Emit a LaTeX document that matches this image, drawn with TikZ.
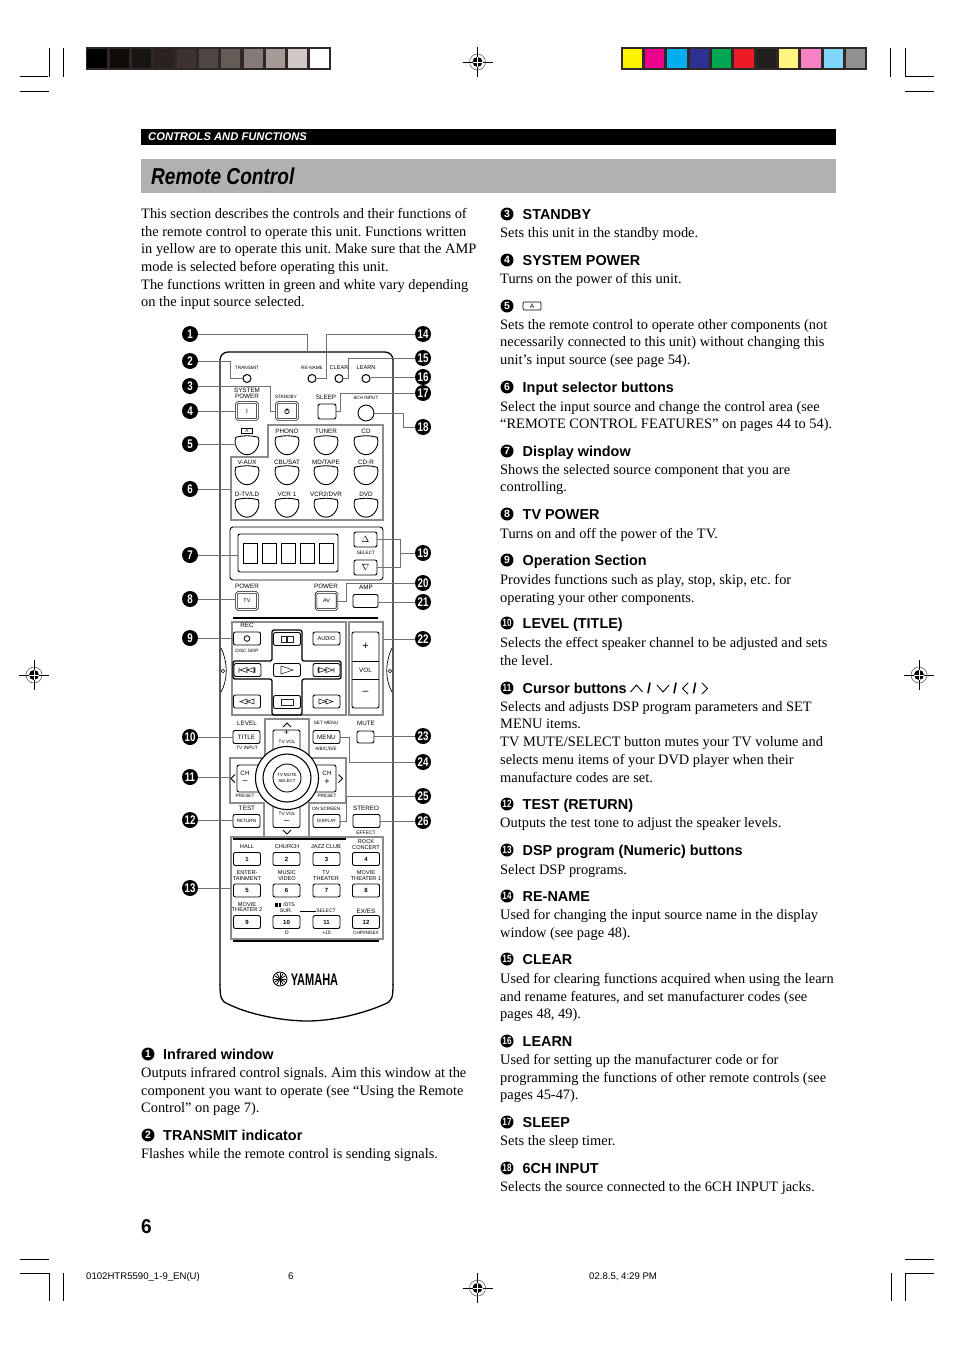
\documentclass[tikz,border=0pt]{standalone}
\usepackage{fontspec}
\setmainfont{Liberation Serif}
\setsansfont{Liberation Sans}
\frenchspacing
\definecolor{leadgray}{HTML}{707070}
\definecolor{groupgray}{HTML}{8C8C8C}
\definecolor{framegray}{HTML}{2F2826}
\definecolor{titlegray}{HTML}{B1B1B1}
\newcommand{\tightnum}[1]{\scalebox{0.78}[1]{#1}}
\tikzset{
  bodytxt/.style={anchor=north west, inner sep=0pt, align=left, font=\fontsize{14.4}{17.7}\selectfont},
  headtxt/.style={anchor=west, inner sep=0pt, text height=11pt, text depth=1pt, font=\sffamily\bfseries\fontsize{14.4}{16}\selectfont},
  numdot/.style={circle, fill=black, text=white, inner sep=0pt, minimum size=13pt, font=\sffamily\bfseries\fontsize{10.5}{11}\selectfont},
  callout/.style={circle, fill=black, text=white, inner sep=0pt, minimum size=16pt, font=\sffamily\bfseries\fontsize{12.5}{13}\selectfont},
  lead/.style={draw=leadgray, line width=1pt},
  groupbox/.style={draw=groupgray, line width=1.2pt, inner sep=0pt},
  btnline/.style={draw=black, line width=0.9pt},
  rbtn/.style={draw=black, line width=0.9pt, rounded corners=2pt, fill=white, inner sep=0pt, minimum width=27pt, minimum height=13pt, font=\sffamily\fontsize{6.3}{7}\selectfont},
  dblbtn/.style={draw=black, line width=0.7pt, double=white, double distance=1pt, rounded corners=1.5pt, inner sep=0pt, minimum width=21pt, minimum height=17pt, font=\sffamily\fontsize{6.3}{7}\selectfont},
  rlabel/.style={inner sep=0pt, font=\sffamily\fontsize{6.3}{7}\selectfont},
  rsmall/.style={inner sep=0pt, font=\sffamily\fontsize{5.6}{6}\selectfont},
  rtiny/.style={inner sep=0pt, font=\sffamily\fontsize{4.7}{5.4}\selectfont, align=center},
  rsign/.style={inner sep=0pt, font=\sffamily\fontsize{9}{10}\selectfont},
  ledbtn/.style={circle, draw=black, line width=1pt, inner sep=0pt, minimum size=8pt},
  inputbtn/.style={inner sep=0pt, minimum width=22pt, minimum height=17pt},
  icon/.style={draw=black!85, line width=0.6pt},
  rulebar/.style={draw=black, line width=1.6pt},
  crop/.style={draw=black, line width=0.6pt}
}
\begin{document}
\begin{tikzpicture}[x=1pt,y=-1pt]
    \useasboundingbox (0,0) rectangle (954,1351);

    % Crop marks
    \draw[crop] (20,76.7) -- (48,76.7) (49.3,48) -- (49.3,76.7) (63,48) -- (63,76.7) (20,91.3) -- (49,91.3);
    \draw[crop] (905.3,48) -- (905.3,76.7) -- (934,76.7) (890.7,48) -- (890.7,76.7) (905,91.3) -- (934,91.3);
    \draw[crop] (20,1259) -- (49,1259) (20,1273) -- (49,1273) -- (49,1301) (63,1273) -- (63,1301);
    \draw[crop] (905,1259) -- (934,1259) (934,1273) -- (905,1273) -- (905,1301) (891,1273) -- (891,1301);

    % Registration marks
    \foreach \rx/\ry in {477.5/62, 34/675, 919/675, 477.5/1288} {
        \draw[black, line width=0.5pt] (\rx-15,\ry) -- (\rx+15,\ry) (\rx,\ry-15) -- (\rx,\ry+15);
        \draw[black!70, line width=0.5pt] (\rx,\ry) circle (8);
        \fill[black] (\rx,\ry) circle (5);
        \draw[white, line width=0.8pt] (\rx-5,\ry) -- (\rx+5,\ry) (\rx,\ry-5) -- (\rx,\ry+5);
    }

    % Colour bars
    \fill[framegray] (86,47) rectangle (331,70);
    \foreach \xa/\xb/\cc in {87.3/107.3/000000, 110/129/0E0B09, 132/151/181412, 154/173/29221F, 176.7/196/3D3230, 199/218/514744, 221/240/655B57, 243.7/262.7/857A76, 266/285/A59A96, 288/307/D0C8C6, 310/329.3/FFFFFF} {
        \definecolor{cellcol}{HTML}{\cc}
        \fill[cellcol] (\xa,48.7) rectangle (\xb,68);
    }
    \fill[framegray] (621,47) rectangle (867,70);
    \foreach \xa/\xb/\cc in {623/642/FFF200, 645/664/EC008C, 667/687/00AEEF, 690/709/2E3192, 712/731/00A651, 734/754/ED1C24, 757/776/231F20, 779/798/FFF57F, 801/821/F682C4, 824/843/80D7FA, 846/865/918F8F} {
        \definecolor{cellcol}{HTML}{\cc}
        \fill[cellcol] (\xa,48.7) rectangle (\xb,68);
    }

    % Page header
    \fill[black] (141,129) rectangle (836,145);
    \node[anchor=west, inner sep=0pt, text=white, font=\sffamily\bfseries\itshape\fontsize{11.2}{12}\selectfont] (sectionTitle) at (148,137) {CONTROLS AND FUNCTIONS};
    \fill[titlegray] (141,159) rectangle (836,193);
    \node[anchor=west, inner sep=0pt, font=\sffamily\bfseries\itshape\fontsize{23}{24}\selectfont] (pageTitle) at (151,176.5) {\scalebox{0.83}[1]{Remote Control}};

    % Left column
    \node[bodytxt] (intro) at (141,208) {This section describes the controls and their functions of\\the remote control to operate this unit. Functions written\\in yellow are to operate this unit. Make sure that the AMP\\mode is selected before operating this unit.\\The functions written in green and white vary depending\\on the input source selected.};
    \node[numdot] (n1) at (148,1054) {1};
    \node[headtxt] (h1) at (163,1054) {Infrared window};
    \node[bodytxt] (b1) at (141,1067) {Outputs infrared control signals. Aim this window at the\\component you want to operate (see “Using the Remote\\Control” on page 7).};
    \node[numdot] (n2) at (148,1135) {2};
    \node[headtxt] (h2) at (163,1135) {TRANSMIT indicator};
    \node[bodytxt] (b2) at (141,1148) {Flashes while the remote control is sending signals.};

    % Right column
    \node[numdot] (n3) at (507,214) {3};
    \node[headtxt] (h3) at (522.5,214) {STANDBY};
    \node[bodytxt] (b3) at (500,227) {Sets this unit in the standby mode.};
    \node[numdot] (n4) at (507,260) {4};
    \node[headtxt] (h4) at (522.5,260) {SYSTEM POWER};
    \node[bodytxt] (b4) at (500,273) {Turns on the power of this unit.};
    \node[numdot] (n5) at (507,306) {5};
    \node[draw=black, line width=0.7pt, rounded corners=1pt, inner sep=0pt, minimum width=18pt, minimum height=8pt, font=\sffamily\fontsize{6.5}{7}\selectfont] (h5) at (532,306) {A};
    \node[bodytxt] (b5) at (500,319) {Sets the remote control to operate other components (not\\necessarily connected to this unit) without changing this\\unit’s input source (see page 54).};
    \node[numdot] (n6) at (507,387) {6};
    \node[headtxt] (h6) at (522.5,387) {Input selector buttons};
    \node[bodytxt] (b6) at (500,401) {Select the input source and change the control area (see\\“REMOTE CONTROL FEATURES” on pages 44 to 54).};
    \node[numdot] (n7) at (507,451) {7};
    \node[headtxt] (h7) at (522.5,451) {Display window};
    \node[bodytxt] (b7) at (500,464) {Shows the selected source component that you are\\controlling.};
    \node[numdot] (n8) at (507,514) {8};
    \node[headtxt] (h8) at (522.5,514) {TV POWER};
    \node[bodytxt] (b8) at (500,528) {Turns on and off the power of the TV.};
    \node[numdot] (n9) at (507,560) {9};
    \node[headtxt] (h9) at (522.5,560) {Operation Section};
    \node[bodytxt] (b9) at (500,574) {Provides functions such as play, stop, skip, etc. for\\operating your other components.};
    \node[numdot] (n10) at (507,623) {\tightnum{10}};
    \node[headtxt] (h10) at (522.5,623) {LEVEL (TITLE)};
    \node[bodytxt] (b10) at (500,637) {Selects the effect speaker channel to be adjusted and sets\\the level.};
    \node[numdot] (n11) at (507,688) {\tightnum{11}};
    \node[headtxt] (h11) at (522.5,688) {Cursor buttons};
    \node[headtxt] (h11a) at (647,688) {/};
    \node[headtxt] (h11b) at (673,688) {/};
    \node[headtxt] (h11c) at (692.5,688) {/};
    \draw[black, line width=0.9pt] (630.5,692) -- (636.5,685) -- (642.5,692) (657,685) -- (663,692) -- (669,685) (688,683) -- (682.5,688.5) -- (688,694) (702,683) -- (707.5,688.5) -- (702,694);
    \node[bodytxt] (b11) at (500,701) {Selects and adjusts DSP program parameters and SET\\MENU items.\\TV MUTE/SELECT button mutes your TV volume and\\selects menu items of your DVD player when their\\manufacture codes are set.};
    \node[numdot] (n12) at (507,804) {\tightnum{12}};
    \node[headtxt] (h12) at (522.5,804) {TEST (RETURN)};
    \node[bodytxt] (b12) at (500,817) {Outputs the test tone to adjust the speaker levels.};
    \node[numdot] (n13) at (507,850) {\tightnum{13}};
    \node[headtxt] (h13) at (522.5,850) {DSP program (Numeric) buttons};
    \node[bodytxt] (b13) at (500,864) {Select DSP programs.};
    \node[numdot] (n14) at (507,896) {\tightnum{14}};
    \node[headtxt] (h14) at (522.5,896) {RE-NAME};
    \node[bodytxt] (b14) at (500,909) {Used for changing the input source name in the display\\window (see page 48).};
    \node[numdot] (n15) at (507,959) {\tightnum{15}};
    \node[headtxt] (h15) at (522.5,959) {CLEAR};
    \node[bodytxt] (b15) at (500,973) {Used for clearing functions acquired when using the learn\\and rename features, and set manufacturer codes (see\\pages 48, 49).};
    \node[numdot] (n16) at (507,1041) {\tightnum{16}};
    \node[headtxt] (h16) at (522.5,1041) {LEARN};
    \node[bodytxt] (b16) at (500,1054) {Used for setting up the manufacturer code or for\\programming the functions of other remote controls (see\\pages 45-47).};
    \node[numdot] (n17) at (507,1122) {\tightnum{17}};
    \node[headtxt] (h17) at (522.5,1122) {SLEEP};
    \node[bodytxt] (b17) at (500,1135) {Sets the sleep timer.};
    \node[numdot] (n18) at (507,1168) {\tightnum{18}};
    \node[headtxt] (h18) at (522.5,1168) {6CH INPUT};
    \node[bodytxt] (b18) at (500,1181) {Selects the source connected to the 6CH INPUT jacks.};

    % Footer
    \node[anchor=west, inner sep=0pt, font=\sffamily\bfseries\fontsize{20}{22}\selectfont] (pageNum) at (141,1226.5) {\scalebox{0.95}[1]{6}};
    \node[anchor=west, inner sep=0pt, font=\sffamily\fontsize{9.6}{10}\selectfont] (footFile) at (86,1276.5) {0102HTR5590\_1-9\_EN(U)};
    \node[anchor=west, inner sep=0pt, font=\sffamily\fontsize{9.6}{10}\selectfont] (footPage) at (288,1276.5) {6};
    \node[anchor=west, inner sep=0pt, font=\sffamily\fontsize{9.6}{10}\selectfont] (footDate) at (589,1276.5) {02.8.5, 4:29 PM};

    % Remote body
    \draw[black, line width=1.3pt, rounded corners=8pt] (220,985) -- (220,352) -- (393,352) -- (393,985);
    \draw[black, line width=1.3pt] (393,984) .. controls (393,998) and (392,1001) .. (385,1004) .. controls (360,1015) and (330,1021) .. (307,1021) .. controls (284,1021) and (250,1015) .. (228,1004) .. controls (221,1001) and (220,998) .. (220,984);
    \draw[black, line width=0.7pt] (221,648) .. controls (228,662) and (228,680) .. (221,692);
    \draw[black, line width=0.7pt] (392,648) .. controls (385,662) and (385,680) .. (392,692);
    \draw[black, line width=0.6pt] (223,671) circle (1.8) (390,671) circle (1.8);
    \coordinate (topEdge) at (307,352);

    % Top row
    \foreach \nm/\px in {ledTransmit/247, ledRename/312, ledClear/339, ledLearn/366} {
        \node[ledbtn] (\nm) at (\px,378.5) {};
    }
    \node[rtiny] (labTransmit) at (247,368) {TRANSMIT};
    \node[rtiny] (labRename) at (312,368) {RE-NAME};
    \node[rsmall] (labClear) at (339,368) {CLEAR};
    \node[rsmall] (labLearn) at (366,368) {LEARN};
    \node[rlabel] (labSystem) at (247,390.5) {SYSTEM};
    \node[rlabel] (labPower) at (247,396.5) {POWER};
    \node[rtiny] (labStandby) at (286,397) {STANDBY};
    \node[rlabel] (labSleep) at (326,397) {SLEEP};
    \node[rtiny] (labSixCh) at (366,398) {6CH INPUT};
    \node[dblbtn] (sysPower) at (247,411) {I};
    \node[dblbtn] (standby) at (287,411) {};
    \draw[black, line width=0.7pt] (287,411.5) circle (2.2) (287,408) -- (287,411);
    \node[rbtn, minimum width=18pt, minimum height=15pt] (sleepBtn) at (327,411.5) {};
    \node[circle, draw=black, line width=0.9pt, inner sep=0pt, minimum size=16pt] (sixCh) at (366,413) {};

    % Input selector buttons
    \node[draw=black, line width=0.6pt, inner sep=0pt, minimum width=11pt, minimum height=5pt, font=\sffamily\fontsize{4.6}{5}\selectfont] (labA) at (247,431) {A};
    \draw[groupgray, line width=1.2pt] (231,457) -- (268,457) -- (268,425) -- (383,425) -- (383,520) -- (231,520) -- cycle;
    \coordinate (inputEdge) at (231,489);
    \foreach \px/\py [count=\k] in {247/446, 287/446, 326/446, 366/446, 247/476, 287/476, 326/476, 366/476, 247/508.5, 287/508.5, 326/508.5, 366/508.5} {
        \node[inputbtn] (in\k) at (\px,\py) {};
        \draw[btnline] (in\k.north west) to[bend left=14] (in\k.north east) to[out=-70,in=0] (in\k.south) to[out=180,in=-110] (in\k.north west);
    }
    \foreach \px/\py/\txt [count=\k] in {287/431/PHONO, 326/431/TUNER, 366/431/CD, 247/462/V-AUX, 287/462/{CBL/SAT}, 326/462/{MD/TAPE}, 366/462/CD-R, 247/494/D-TV{/}LD, 287/494/VCR 1, 326/494/{VCR2/DVR}, 366/494/DVD} {
        \node[rlabel] (inLab\k) at (\px,\py) {\txt};
    }

    % Display panel
    \node[draw=black, line width=0.9pt, rounded corners=3pt, inner sep=0pt, minimum width=153pt, minimum height=53pt] (dispPanel) at (306.5,553.5) {};
    \node[draw=black, line width=0.9pt, rounded corners=2pt, inner sep=0pt, minimum width=100pt, minimum height=38pt] (lcdPanel) at (288,553) {};
    \foreach \px in {250,269,288.5,307.5,326} {
        \draw[black, line width=0.9pt] (\px-7,543) rectangle (\px+7,563);
    }
    \node[rbtn, minimum width=23pt, minimum height=15pt, font=\fontsize{9}{10}\selectfont] (selUp) at (365.5,539.5) {$\Delta$};
    \node[rbtn, minimum width=23pt, minimum height=15pt, font=\fontsize{9}{10}\selectfont] (selDown) at (365.5,567.5) {$\nabla$};
    \node[rtiny] (labSelect) at (366,553) {SELECT};

    % Power row
    \node[rlabel] (labPowerTv) at (247,586) {POWER};
    \node[rlabel] (labPowerAv) at (326,586) {POWER};
    \node[rlabel] (labAmp) at (366,587) {AMP};
    \node[dblbtn, font=\sffamily\fontsize{5.5}{6}\selectfont] (tvBtn) at (247,601) {TV};
    \node[dblbtn, font=\sffamily\fontsize{5.5}{6}\selectfont] (avBtn) at (326.5,601) {AV};
    \node[rbtn, minimum width=25pt, minimum height=13pt] (ampBtn) at (365.5,601) {};
    \draw[rulebar] (233,618) -- (378,618);

    % Operation section
    \node[groupbox, minimum width=114pt, minimum height=93pt] (recGroup) at (289,668.5) {};
    \node[groupbox, minimum width=34pt, minimum height=93pt] (volGroup) at (366,668.5) {};
    \node[rlabel] (labRec) at (247,625.5) {REC};
    \node[rtiny] (labDisc) at (247,650.5) {DISC SKIP};
    \draw[black, line width=1.3pt, rounded corners=2pt] (272,630) -- (302,630) -- (302,661) -- (341,661) -- (341,679) -- (302,679) -- (302,715) -- (272,715) -- (272,679) -- (233,679) -- (233,661) -- (272,661) -- cycle;
    \foreach \nm/\px/\py in {recBtn/247/638.5, pauseBtn/287/639, audioBtn/326.5/638.5, skipL/247.5/670, skipR/326.5/670, playBtn/287/670, stopBtn/287/702, revBtn/247/701.5, ffBtn/326.5/701.5} {
        \node[rbtn] (\nm) at (\px,\py) {};
    }
    \node[rsmall] (labAudio) at (326.5,638.5) {AUDIO};
    \draw[icon, line width=1pt] (247,638.5) circle (2.8);
    \draw[icon] (281,636) rectangle (286.5,642) (287.5,636) rectangle (293,642);
    \draw[icon] (281,666) -- (293,670) -- (281,674) -- cycle;
    \draw[icon] (281,699) rectangle (293,705);
    \draw[icon] (239,667.5) -- (239,672.5) (247,667.5) -- (240,670) -- (247,672.5) -- cycle (254,667.5) -- (247,670) -- (254,672.5) -- cycle (255,667.5) -- (255,672.5);
    \draw[icon] (318,667.5) -- (318,672.5) (319,667.5) -- (326,670) -- (319,672.5) -- cycle (326,667.5) -- (333,670) -- (326,672.5) -- cycle (334,667.5) -- (334,672.5);
    \draw[icon] (247,699) -- (240,701.5) -- (247,704) -- cycle (254,699) -- (247,701.5) -- (254,704) -- cycle;
    \draw[icon] (319,699) -- (326,701.5) -- (319,704) -- cycle (326,699) -- (333,701.5) -- (326,704) -- cycle;
    \draw[black, line width=0.9pt, rounded corners=2pt] (352,632) rectangle (379,708);
    \draw[black, line width=0.7pt] (352,661) -- (379,661) (352,679) -- (379,679);
    \node[rlabel, font=\sffamily\fontsize{11}{12}\selectfont] (labVolUp) at (365.5,646) {+};
    \node[rlabel] (labVol) at (365.5,670) {VOL};
    \node[rlabel, font=\sffamily\fontsize{11}{12}\selectfont] (labVolDn) at (365.5,693) {--};

    % Cursor section
    \draw[groupgray, line width=1.2pt] (265,719) -- (309,719) -- (309,758) -- (346,758) -- (346,803) -- (309,803) -- (309,837) -- (264,837) -- (264,803) -- (230,803) -- (230,758) -- (265,758) -- cycle;
    \coordinate (cursorEdge) at (230,777);
    \draw[black, line width=0.9pt] (283,727) -- (287,723) -- (291,727) (283,830) -- (287,834) -- (291,830) (235,774.5) -- (231,778.5) -- (235,782.5) (338.5,774.5) -- (342.5,778.5) -- (338.5,782.5);
    \node[rlabel] (labLevel) at (247,723) {LEVEL};
    \node[rtiny] (labTvInput) at (247,748) {TV INPUT};
    \node[rtiny] (labSetMenu) at (326,723) {SET MENU};
    \node[rtiny] (labAbc) at (326,749) {A/B/C/D/E};
    \node[rlabel] (labMute) at (366,723) {MUTE};
    \node[rbtn] (titleBtn) at (246.5,737) {TITLE};
    \node[rbtn] (menuBtn) at (326.5,737) {MENU};
    \node[rbtn, minimum width=17pt, minimum height=12pt] (muteBtn) at (365.5,737) {};
    \node[rbtn, minimum width=27pt, minimum height=28pt] (volUp) at (286.5,744) {};
    \node[rbtn, minimum width=27pt, minimum height=28pt] (volDn) at (286.5,813.5) {};
    \node[rbtn, minimum width=30pt, minimum height=27pt] (chDn) at (252,778.5) {};
    \node[rbtn, minimum width=28pt, minimum height=27pt] (chUp) at (322,778.5) {};
    \node[rsign] (labVolPlus) at (286.5,733) {+};
    \node[rtiny] (labTvVol) at (287,741.5) {TV VOL};
    \node[rtiny] (labTvVolB) at (287,814) {TV VOL};
    \node[rsign] (labVolMinus) at (286.5,822) {--};
    \node[rlabel] (labChA) at (245,773) {CH};
    \node[rsign] (labChMinus) at (245,782) {--};
    \node[rlabel] (labChB) at (327,773) {CH};
    \node[rsign] (labChPlus) at (327,782) {+};
    \node[rtiny] (labPresetA) at (245,796) {PRESET};
    \node[rtiny] (labPresetB) at (327,796) {PRESET};
    \node[circle, draw=black, fill=white, line width=1.1pt, inner sep=0pt, minimum size=63pt] (ringOuter) at (287,778) {};
    \node[circle, draw=black, fill=white, line width=1.1pt, inner sep=0pt, minimum size=48pt] (ringInner) at (287,778) {};
    \node[circle, draw=black, fill=white, line width=0.9pt, inner sep=0pt, minimum size=28pt, font=\sffamily\fontsize{4.4}{5.8}\selectfont, align=center] (muteSelect) at (287,778) {TV MUTE\\SELECT};

    % Test row
    \node[rlabel] (labTest) at (247,808.5) {TEST};
    \node[rtiny] (labOnScreen) at (326,808.5) {ON SCREEN};
    \node[rlabel] (labStereo) at (366,808.5) {STEREO};
    \node[rtiny, font=\sffamily\fontsize{5}{6}\selectfont] (labEffect) at (366,832.5) {EFFECT};
    \node[rbtn, font=\sffamily\fontsize{4.6}{5}\selectfont] (returnBtn) at (246.5,821) {RETURN};
    \node[rbtn, font=\sffamily\fontsize{4.6}{5}\selectfont] (displayBtn) at (326.5,821) {DISPLAY};
    \node[rbtn] (stereoBtn) at (366.5,821) {};

    % DSP program buttons
    \node[groupbox, minimum width=152pt, minimum height=102pt] (dspGroup) at (307,888) {};
    \draw[rulebar] (233,839) -- (346,839);
    \draw[rulebar] (233,941) -- (379,941);
    \foreach \px/\py/\txt [count=\k] in {247/859/1, 286.5/859/2, 326.5/859/3, 366/859/4, 247/890.5/5, 286.5/890.5/6, 326.5/890.5/7, 366/890.5/8, 247/922/9, 286.5/922/10, 326.5/922/11, 366/922/12} {
        \node[rbtn, font=\sffamily\bfseries\fontsize{6}{7}\selectfont] (dsp\k) at (\px,\py) {\txt};
    }
    \foreach \px/\py/\txt [count=\k] in {247/847/HALL, 287/847/CHURCH, 326/847/JAZZ CLUB, 366/842/ROCK, 366/848/CONCERT, 247/873/ENTER-, 247/879/TAINMENT, 287/873/MUSIC, 287/879/VIDEO, 326/873/TV, 326/879/THEATER, 366/873/MOVIE, 366/879/THEATER 1, 247/904.5/MOVIE, 247/910/THEATER 2} {
        \node[rsmall] (dspLab\k) at (\px,\py) {\txt};
    }
    \node[rlabel] (labExEs) at (366,911) {EX/ES};
    \node[fill=black, inner sep=0pt, minimum width=6pt, minimum height=4.5pt] (ddLogo) at (278,905) {};
    \draw[white, line width=0.5pt] (ddLogo.north) -- (ddLogo.south);
    \node[rsmall, font=\sffamily\fontsize{5.2}{6}\selectfont] (labDts) at (289,905) {/DTS};
    \node[rsmall, font=\sffamily\fontsize{5.2}{6}\selectfont] (labSur) at (286,910.5) {SUR.};
    \node[rsmall, font=\sffamily\fontsize{5}{6}\selectfont] (labSelTwo) at (326,911) {SELECT};
    \coordinate (selTick) at (300,911);
    \draw[black, line width=0.7pt] (selTick) -- (labSelTwo);
    \node[rsmall, font=\sffamily\fontsize{5}{6}\selectfont] (labZero) at (287,933) {D};
    \node[rsmall, font=\sffamily\fontsize{5}{6}\selectfont] (labTen) at (326.5,933) {+10};
    \node[rtiny] (labChp) at (366,933) {CHP/INDEX};

    % Yamaha logo
    \draw[black, line width=0.9pt] (280,979) circle (7);
    \foreach \a in {0,30,...,150} {
        \draw[black, line width=0.8pt] (280,979) ++(\a:6) -- ++(\a+180:12);
    }
    \node[inner sep=0pt, font=\sffamily\bfseries\fontsize{16.7}{18}\selectfont] (yamahaTxt) at (314.5,979.5) {\scalebox{0.66}[1]{YAMAHA}};

    % Callouts on the left
    \foreach \nm/\txt/\py in {c1/1/334, c2/2/361, c3/3/386, c4/4/411, c5/5/444, c6/6/489, c7/7/555, c8/8/599, c9/9/638, c13/13/888, c10/10/737, c11/11/777, c12/12/820} {
        \node[callout] (\nm) at (190,\py) {\tightnum{\txt}};
    }
    % Callouts on the right
    \foreach \nm/\txt/\py in {c14/14/334, c15/15/358, c16/16/377, c17/17/393, c18/18/427, c19/19/553, c20/20/583, c21/21/602, c22/22/639, c23/23/736, c24/24/762, c25/25/796, c26/26/821} {
        \node[callout] (\nm) at (423,\py) {\tightnum{\txt}};
    }

    % Connectors
    \coordinate (j2) at (230,378.5);
    \coordinate (j3) at (270,411);
    \coordinate (j14) at (326,378.5);
    \coordinate (j15) at (348,378.5);
    \coordinate (j17) at (340,411.5);
    \coordinate (j18) at (403,413);
    \coordinate (j19) at (400,553);
    \coordinate (j20) at (346,601);
    \coordinate (j24) at (349,737);
    \coordinate (j25) at (346,821);
    \draw[lead] (c1) -| (topEdge);
    \draw[lead] (c2) -| (j2) -- (ledTransmit);
    \draw[lead] (c3) -| (j3) -- (standby);
    \draw[lead] (c4) -- (sysPower);
    \draw[lead] (c5) -- (c5 -| in1.west);
    \draw[lead] (c6) -- (inputEdge);
    \draw[lead] (c7) -- (c7 -| lcdPanel.west);
    \draw[lead] (c8) -- (c8 -| tvBtn.west);
    \draw[lead] (c9) -- (c9 -| recBtn.west);
    \draw[lead] (c10) -- (titleBtn);
    \draw[lead] (c11) -- (cursorEdge);
    \draw[lead] (c12) -- (c12 -| returnBtn.west);
    \draw[lead] (c13) -- (dspGroup);
    \draw[lead] (c14) -| (j14) -- (ledRename);
    \draw[lead] (c15) -| (j15) -- (ledClear);
    \draw[lead] (c16) -- (c16 -| ledLearn.east);
    \draw[lead] (c17) -| (j17) -- (sleepBtn);
    \draw[lead] (sixCh) -- (j18) |- (c18);
    \draw[lead] (c19) -- (j19);
    \draw[lead] (selUp) -| (j19);
    \draw[lead] (selDown) -| (j19);
    \draw[lead] (avBtn) -- (j20) |- (c20);
    \draw[lead] (c21) -- (c21 -| ampBtn.east);
    \draw[lead] (c22) -- (c22 -| volGroup.east);
    \draw[lead] (c23) -- (c23 -| muteBtn.east);
    \draw[lead] (menuBtn) -- (j24) |- (c24);
    \draw[lead] (displayBtn) -- (j25) |- (c25);
    \draw[lead] (c26) -- (c26 -| stereoBtn.east);
\end{tikzpicture}
\end{document}
